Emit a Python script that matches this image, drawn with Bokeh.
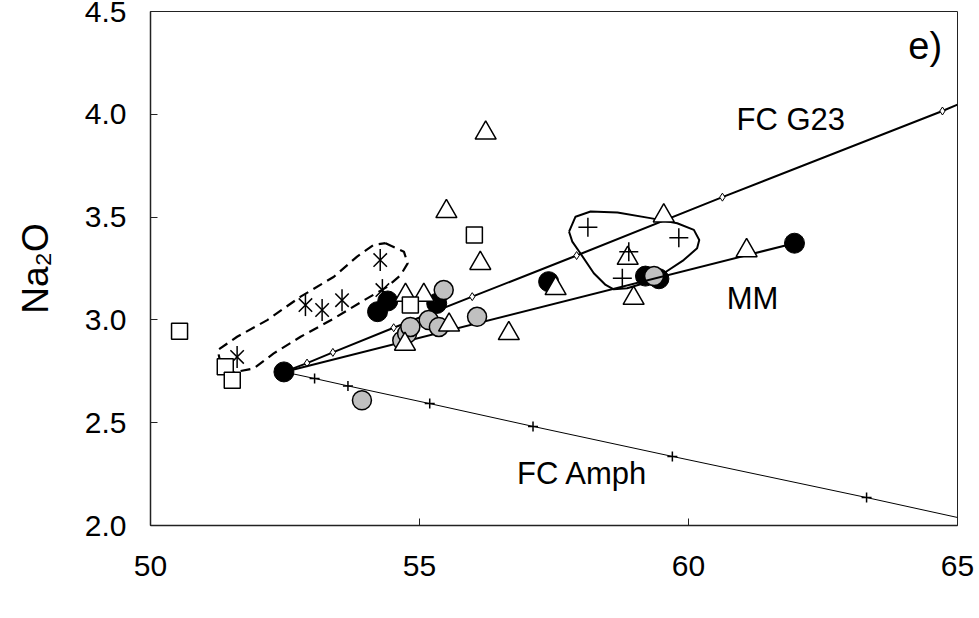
import math
from bokeh.plotting import figure
from bokeh.models import FixedTicker, Range1d, NumeralTickFormatter
from bokeh.core.properties import value
from bokeh.embed import file_html
from bokeh.resources import INLINE

FONT = "Liberation Sans"

# ---- axes ----
x_ticks = [50, 55, 60, 65]
y_ticks = [2.0, 2.5, 3.0, 3.5, 4.0, 4.5]
y_title = "Na\u2082O"

# ---- sample data (SiO2 vs Na2O) ----
black_x = [52.48, 54.22, 54.41, 55.32, 57.40, 59.20, 59.45, 61.97]
black_y = [2.747, 3.040, 3.092, 3.080, 3.186, 3.213, 3.200, 3.373]

gray_low_x = [59.36]
gray_low_y = [3.213]

gray_x = [53.93, 54.68, 54.77, 54.83, 55.17, 55.36, 55.45, 56.07]
gray_y = [2.609, 2.900, 2.934, 2.966, 2.999, 2.966, 3.145, 3.015]

tri_x = [56.23, 55.50, 56.13, 54.74, 55.08, 54.73, 55.55, 56.66, 57.53, 59.54, 58.87, 58.98, 61.08]
tri_y = [3.909, 3.527, 3.275, 3.120, 3.120, 2.882, 2.975, 2.934, 3.153, 3.506, 3.300, 3.105, 3.337]

sq_x = [50.54, 51.39, 51.52, 54.83, 56.02]
sq_y = [2.945, 2.772, 2.707, 3.072, 3.413]

ast_x = [51.61, 52.88, 53.19, 53.56, 54.27, 54.31]
ast_y = [2.820, 3.072, 3.048, 3.096, 3.291, 3.145]

plus_x = [58.13, 59.82, 58.89, 58.77]
plus_y = [3.451, 3.400, 3.332, 3.202]

# ---- model curves ----
g23_x = [52.48, 52.91, 53.39, 54.52, 55.98, 57.92, 60.63, 64.72, 65.00]
g23_y = [2.747, 2.790, 2.842, 2.962, 3.113, 3.313, 3.597, 4.016, 4.047]
g23_step_x = [52.91, 53.39, 54.52, 55.98, 57.92, 60.63, 64.72]
g23_step_y = [2.790, 2.842, 2.962, 3.113, 3.313, 3.597, 4.016]

amph_x = [52.48, 53.05, 53.67, 55.19, 57.11, 59.70, 63.31, 65.00]
amph_y = [2.747, 2.715, 2.679, 2.593, 2.482, 2.336, 2.136, 2.039]
amph_step_x = [53.05, 53.67, 55.19, 57.11, 59.70, 63.31]
amph_step_y = [2.715, 2.679, 2.593, 2.482, 2.336, 2.136]

mm_x = [52.48, 61.97]
mm_y = [2.747, 3.373]

# ---- field outlines ----
dash_x = [54.37, 54.71, 54.78, 54.65, 54.40, 53.97, 53.41, 52.79, 52.29, 51.92,
          51.55, 51.30, 51.25, 51.61, 52.17, 52.79, 53.41, 53.84, 54.15]
dash_y = [3.373, 3.332, 3.275, 3.218, 3.161, 3.096, 3.007, 2.918, 2.837, 2.764,
          2.745, 2.790, 2.853, 2.918, 2.999, 3.113, 3.210, 3.308, 3.365]

solid_x = [57.78, 57.90, 58.18, 58.68, 59.29, 59.79, 60.10, 60.20, 60.16, 59.91,
           59.54, 59.17, 58.86, 58.61, 58.46, 58.24, 57.99, 57.84]
solid_y = [3.429, 3.502, 3.527, 3.522, 3.495, 3.470, 3.438, 3.389, 3.348, 3.291,
           3.227, 3.178, 3.154, 3.149, 3.170, 3.227, 3.324, 3.381]

# ---- labels ----
lab_text = ["FC G23", "MM", "FC Amph"]
lab_x = [61.90, 61.19, 58.03]
lab_y = [3.974, 3.106, 2.253]
panel_text = ["e)"]
panel_x = [64.40]
panel_y = [4.334]

p = figure(width=975, height=600, x_range=Range1d(50, 65), y_range=Range1d(2.0, 4.5),
           output_backend="svg", toolbar_location=None,
           min_border_left=150, min_border_right=18, min_border_top=11, min_border_bottom=75)

p.grid.visible = False
p.outline_line_color = "#222222"
p.outline_line_width = 1
p.background_fill_color = "white"
p.border_fill_color = "white"

for ax in (p.xaxis[0], p.yaxis[0]):
    ax.axis_line_color = "#222222"
    ax.axis_line_width = 1.5
    ax.major_tick_in = 7
    ax.major_tick_out = 0
    ax.minor_tick_line_color = None
    ax.major_tick_line_color = "#222222"
    ax.major_label_text_font = FONT
    ax.major_label_text_font_size = "30px"
    ax.major_label_text_color = "black"

p.xaxis.major_label_standoff = 30
p.yaxis.major_label_standoff = 24
p.xaxis.ticker = FixedTicker(ticks=x_ticks)
p.yaxis.ticker = FixedTicker(ticks=y_ticks)
p.yaxis.formatter = NumeralTickFormatter(format="0.0")

p.yaxis.axis_label = y_title
p.yaxis.axis_label_text_font = FONT
p.yaxis.axis_label_text_font_size = "37px"
p.yaxis.axis_label_text_font_style = "normal"
p.yaxis.axis_label_text_color = "black"
p.yaxis.axis_label_standoff = 26

# fields
p.line(dash_x + dash_x[:1], dash_y + dash_y[:1], line_color="black", line_width=2.2, line_dash="10 6")
p.line(solid_x + solid_x[:1], solid_y + solid_y[:1], line_color="black", line_width=2)

# asterisks (six-armed)
p.scatter(ast_x, ast_y, marker="x", size=19, line_color="black", line_width=1.5)
p.scatter(ast_x, ast_y, marker="dash", angle=math.pi / 2, size=22, line_color="black", line_width=1.5)

# black circles and gray under lines
p.scatter(black_x, black_y, marker="circle", size=20, fill_color="black", line_color="black", line_width=1)
p.scatter(gray_low_x, gray_low_y, marker="circle", size=19, fill_color="#c0c0c0", line_color="black", line_width=1.5)

# model lines
p.line(amph_x, amph_y, line_color="black", line_width=1)
p.scatter(amph_step_x, amph_step_y, marker="cross", size=10, line_color="black", line_width=1.5)
p.line(g23_x, g23_y, line_color="black", line_width=2)
p.scatter(g23_step_x, g23_step_y, marker="diamond", size=8, fill_color="white", line_color="black", line_width=1)
p.line(mm_x, mm_y, line_color="black", line_width=2)

# other samples
p.scatter(gray_x, gray_y, marker="circle", size=19, fill_color="#c0c0c0", line_color="black", line_width=1.5)
p.scatter(tri_x, tri_y, marker="triangle", size=21, fill_color="white", line_color="black", line_width=1.5)
p.scatter(sq_x, sq_y, marker="square", size=16, fill_color="white", line_color="black", line_width=1.5)
p.scatter(plus_x, plus_y, marker="cross", size=19, line_color="black", line_width=1.5)

p.text(lab_x, lab_y, text=lab_text, text_font=value(FONT), text_font_size="31px",
       text_align="center", text_baseline="middle", text_color="black")
p.text(panel_x, panel_y, text=panel_text, text_font=value(FONT), text_font_size="38px",
       text_align="center", text_baseline="middle", text_color="black")

open("out.html", "w").write(file_html(p, INLINE))
